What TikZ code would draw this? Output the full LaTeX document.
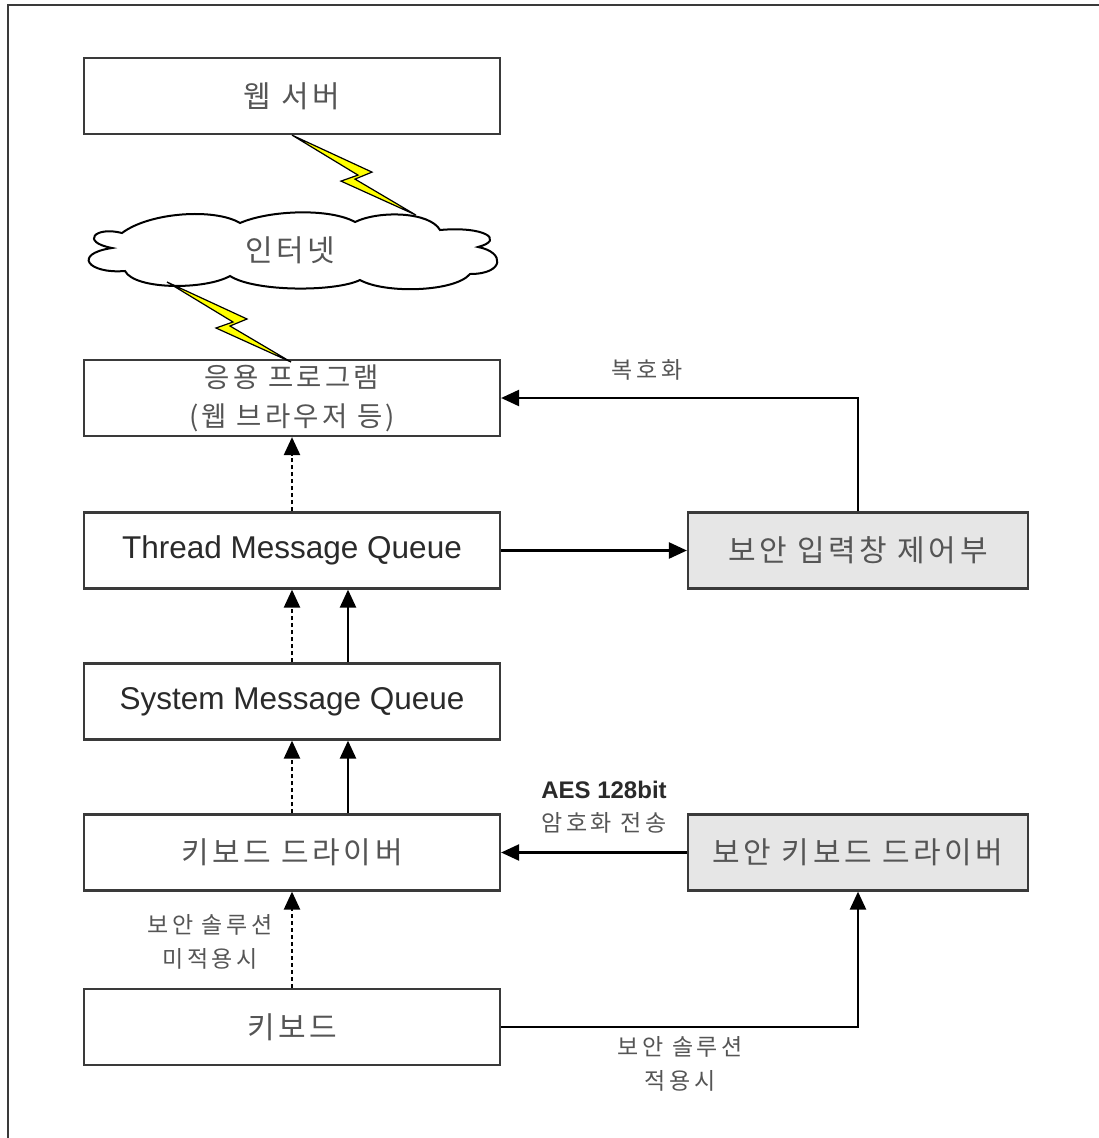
\documentclass[tikz,border=0pt]{standalone}
\usepackage{fontspec}
\setmainfont{Liberation Sans}
\newfontfamily\kr[LetterSpace=12]{Noto Sans CJK KR}
\newfontfamily\krs[LetterSpace=15]{Noto Sans CJK KR}
\usetikzlibrary{arrows.meta}
\definecolor{boxline}{HTML}{3A3A3A}
\definecolor{kgray}{HTML}{555555}
\definecolor{egray}{HTML}{2A2A2A}
\definecolor{secfill}{HTML}{E6E6E6}
\definecolor{boltyellow}{HTML}{FFFF00}
\begin{document}
\begin{tikzpicture}[x=1pt,y=-1pt,
  box/.style={draw=boxline,line width=2.2pt,fill=white,minimum width=416pt,minimum height=76pt,inner sep=0pt,align=center},
  secbox/.style={box,fill=secfill,minimum width=340pt},
  ktext/.style={font=\kr\fontsize{30}{38}\selectfont,text=kgray},
  etext/.style={font=\fontsize{31.5}{36}\selectfont,text=egray},
  lbl/.style={font=\krs\fontsize{23}{34}\selectfont,text=kgray,align=center,inner sep=0pt},
  conn/.style={line width=2.4pt,-{Triangle[length=18pt,width=16pt]}},
  dconn/.style={conn,dash pattern=on 4pt off 3pt},
  boltstyle/.style={fill=boltyellow,draw=black,line width=1.2pt,line join=miter},
  bolt/.pic={\filldraw[boltstyle] (0,0) -- (80,37) -- (63,44) -- (124,80) -- (49,46) -- (66,40) -- cycle;}
]
\useasboundingbox (0,0) rectangle (1098,1138);
% frame
\draw[boxline,line width=2pt] (8,1140) -- (8,5) -- (1100,5);

% nodes
\node[box,ktext] (web) at (292,96) {웹 서버};
\node[box,ktext,font=\kr\fontsize{27.5}{39}\selectfont] (app) at (292,398) {응용 프로그램\\(웹 브라우저 등)};
\node[box,etext] (tmq) at (292,550.5) {Thread Message Queue};
\node[box,etext] (smq) at (292,701.5) {System Message Queue};
\node[box,ktext] (kd) at (292,852.5) {키보드 드라이버};
\node[box,ktext] (kb) at (292,1027) {키보드};
\node[secbox,ktext] (sic) at (858,550.5) {보안 입력창 제어부};
\node[secbox,ktext] (skd) at (858,852.5) {보안 키보드 드라이버};

% cloud
\coordinate (netc) at (290,250);
\draw[line width=2pt,fill=white]
  (122,233) .. controls (150,212) and (215,208) .. (240,223)
  .. controls (270,210) and (330,208) .. (355,222)
  .. controls (380,210) and (430,212) .. (440,230)
  .. controls (485,226) and (505,240) .. (478,247)
  .. controls (505,252) and (505,274) .. (470,274)
  .. controls (455,292) and (385,294) .. (360,280)
  .. controls (335,292) and (255,292) .. (230,276)
  .. controls (205,290) and (135,290) .. (125,271)
  .. controls (88,274) and (72,254) .. (112,248)
  .. controls (80,242) and (95,226) .. (122,233) -- cycle;
\node[ktext] (net) at (netc) {인터넷};

% lightning bolts
\coordinate (b1) at (web.south);
\pic at (b1) {bolt};
\coordinate (b2) at (167,282);
\pic at (b2) {bolt};

% connectors
\draw[dconn] (tmq.north) -- (app.south);
\draw[dconn] (smq.north) -- (tmq.south);
\draw[conn] ([xshift=56pt]smq.north) -- ([xshift=56pt]tmq.south);
\draw[dconn] (kd.north) -- (smq.south);
\draw[conn] ([xshift=56pt]kd.north) -- ([xshift=56pt]smq.south);
\draw[dconn] (kb.north) -- (kd.south);
\draw[conn] (tmq.east) -- (sic.west);
\draw[conn] (sic.north) |- (app.east);
\draw[conn] (skd.west) -- (kd.east);
\draw[conn] (kb.east) -| (skd.south);

% labels
\node[lbl] (ldec) at (647,370) {복호화};
\node[lbl,font=\bfseries\fontsize{24}{28}\selectfont,text=egray] (laes) at (604,790) {AES 128bit};
\node[lbl] (lenc) at (604,823) {암호화 전송};
\node[lbl] (lno) at (210,942) {보안 솔루션\\미적용시};
\node[lbl] (lyes) at (680,1064) {보안 솔루션\\적용시};
\end{tikzpicture}
\end{document}
